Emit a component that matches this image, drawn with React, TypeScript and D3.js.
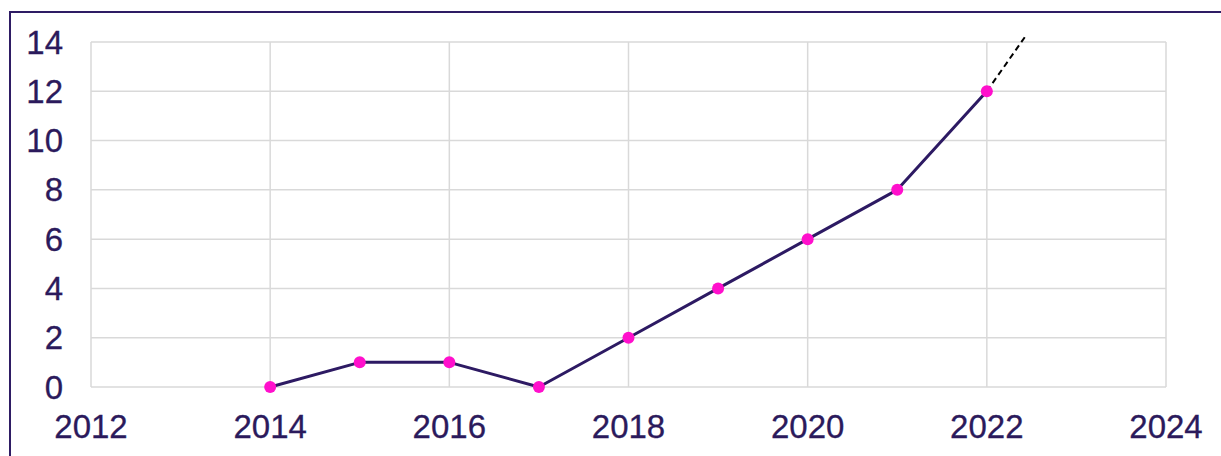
import React from "react";
import * as d3 from "d3";

const years = [2014, 2015, 2016, 2017, 2018, 2019, 2020, 2021, 2022];
const values = [0, 1, 1, 0, 2, 4, 6, 8, 12];
const xTicks = [2012, 2014, 2016, 2018, 2020, 2022, 2024];
const yTicks = [0, 2, 4, 6, 8, 10, 12, 14];
const trendYears = [2022, 2022.44];
const trendValues = [12, 14.28];

const W = 1221;
const H = 456;
const textColor = "#2b1a5c";
const lineColor = "#2d1a63";
const markerColor = "#ff10cc";

export default function App() {
  const x = d3.scaleLinear().domain([2012, 2024]).range([91, 1166]);
  const y = d3.scaleLinear().domain([0, 14]).range([387, 42]);
  const line = d3
    .line<number>()
    .x((_, i) => x(years[i]))
    .y((d) => y(d));
  const trend = d3
    .line<number>()
    .x((_, i) => x(trendYears[i]))
    .y((d) => y(d));

  return (
    <svg
      width={W}
      height={H}
      style={{ position: "absolute", left: 0, top: 0, background: "#fff" }}
      fontFamily="'Liberation Sans', Arial, sans-serif"
    >
      <rect x={0} y={0} width={W} height={H} fill="#fff" />
      <rect x={10} y={12} width={W + 20} height={H + 20} fill="none" stroke="#2e1c64" strokeWidth={2} />
      {yTicks.map((t) => (
        <line key={"gy" + t} x1={x(2012)} x2={x(2024)} y1={y(t)} y2={y(t)} stroke="#d9d9d9" strokeWidth={1.5} />
      ))}
      {xTicks.map((t) => (
        <line key={"gx" + t} x1={x(t)} x2={x(t)} y1={y(0)} y2={y(14)} stroke="#d9d9d9" strokeWidth={1.5} />
      ))}
      {yTicks.map((t) => (
        <text key={"ty" + t} x={63} y={y(t)} dy="0.35em" textAnchor="end" fontSize={33} fill={textColor} stroke={textColor} strokeWidth={0.3}>
          {t}
        </text>
      ))}
      {xTicks.map((t) => (
        <text key={"tx" + t} x={x(t)} y={438} textAnchor="middle" fontSize={33} fill={textColor} stroke={textColor} strokeWidth={0.3}>
          {t}
        </text>
      ))}
      <path d={trend(trendValues) || ""} fill="none" stroke="#000" strokeWidth={2} strokeDasharray="6,4" />
      <path d={line(values) || ""} fill="none" stroke={lineColor} strokeWidth={3} strokeLinejoin="round" />
      {values.map((v, i) => (
        <circle key={"m" + i} cx={x(years[i])} cy={y(v)} r={6} fill={markerColor} />
      ))}
    </svg>
  );
}
